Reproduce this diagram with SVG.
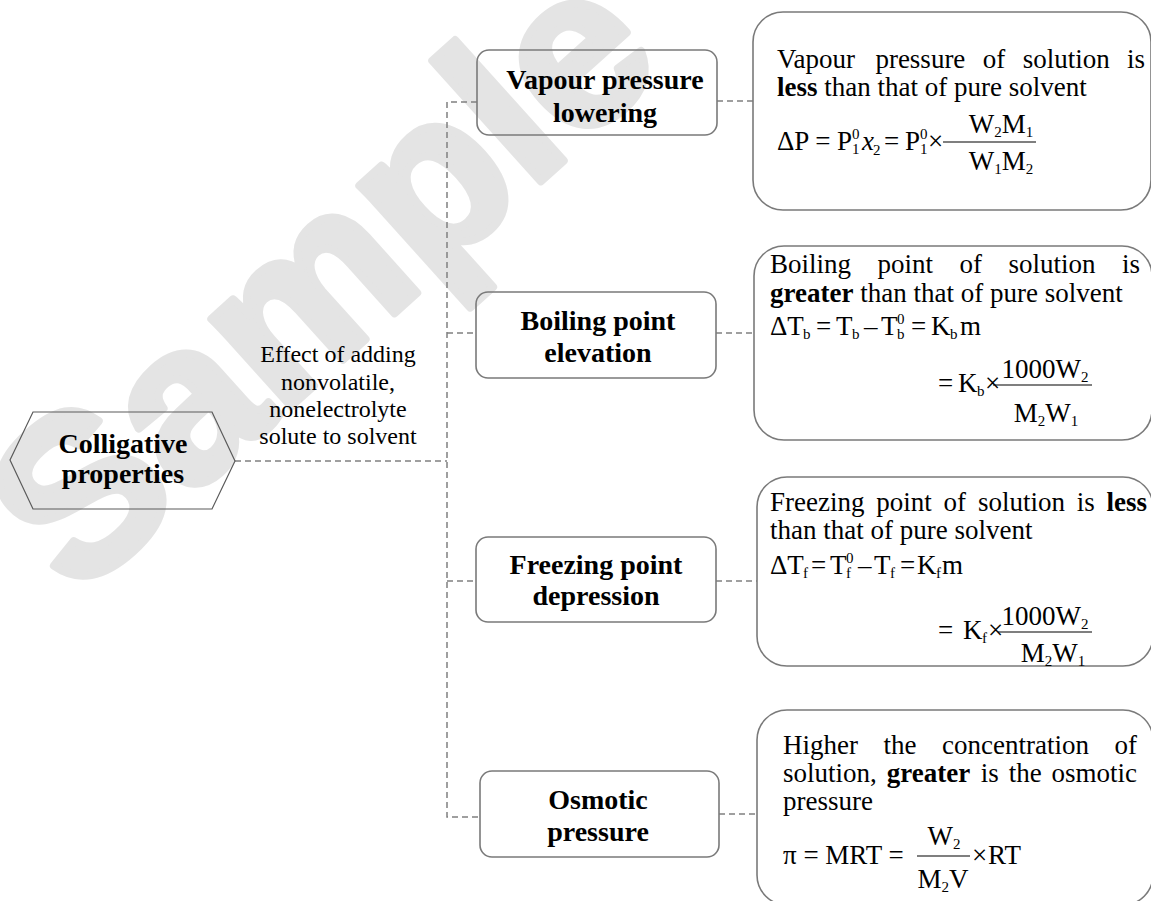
<svg xmlns="http://www.w3.org/2000/svg" width="1151" height="901" viewBox="0 0 1151 901">
<style>
text{font-family:"Liberation Serif","Times New Roman",serif;fill:#000}
.wm{font-family:"Liberation Sans",Arial,sans-serif;font-weight:bold;font-size:224px;fill:#e4e4e4;stroke:#e4e4e4;stroke-width:8;stroke-linejoin:round}
.shape{fill:none;stroke:#7a7a7a;stroke-width:1.6}
.hex{fill:none;stroke:#5a5a5a;stroke-width:1.2}
.lbl{font-weight:bold;font-size:28px;text-anchor:middle}
.eff{font-size:24px;text-anchor:middle}
.t{font-size:27px}
.s{font-size:15px}
.b{font-weight:bold}
.i{font-style:italic}
.m{text-anchor:middle}
.conn line,.conn path{stroke:#808080;stroke-width:1.5;stroke-dasharray:6 4;fill:none}
.bar{stroke:#000;stroke-width:1.2}
</style>

<text class="wm" x="76" y="600" transform="rotate(-42 76 600)">Sample</text>

<g id="connectors" class="conn">
  <line x1="235" y1="461" x2="447" y2="461"/>
  <path d="M477,102 H447 V817 H480"/>
  <line x1="447" y1="333" x2="476" y2="333"/>
  <line x1="447" y1="581" x2="476" y2="581"/>
  <line x1="717" y1="101" x2="753" y2="101"/>
  <line x1="716" y1="333" x2="754" y2="333"/>
  <line x1="716" y1="581" x2="757" y2="581"/>
  <line x1="719" y1="814" x2="757" y2="814"/>
</g>

<g id="colligative">
  <polygon class="hex" points="10,460 33,412 212,412 235,461 212,509 33,509"/>
  <text class="lbl" x="123" y="453" font-size="27.5">Colligative</text>
  <text class="lbl" x="123" y="483" font-size="27.5">properties</text>
</g>

<g id="effect-label">
  <text class="eff" x="338" y="362">Effect of adding</text>
  <text class="eff" x="338" y="390">nonvolatile,</text>
  <text class="eff" x="338" y="417">nonelectrolyte</text>
  <text class="eff" x="338" y="444">solute to solvent</text>
</g>

<g id="vapour-pressure">
  <rect class="shape" x="477" y="50" width="240" height="85" rx="12"/>
  <text class="lbl" x="605" y="89">Vapour pressure</text>
  <text class="lbl" x="605" y="122">lowering</text>
</g>

<g id="boiling-point">
  <rect class="shape" x="476" y="292" width="240" height="86" rx="12"/>
  <text class="lbl" x="598" y="330">Boiling point</text>
  <text class="lbl" x="598" y="362">elevation</text>
</g>

<g id="freezing-point">
  <rect class="shape" x="476" y="537" width="240" height="85" rx="12"/>
  <text class="lbl" x="596" y="574">Freezing point</text>
  <text class="lbl" x="596" y="605">depression</text>
</g>

<g id="osmotic-pressure">
  <rect class="shape" x="480" y="771" width="239" height="86" rx="12"/>
  <text class="lbl" x="598" y="809">Osmotic</text>
  <text class="lbl" x="598" y="841">pressure</text>
</g>

<g id="vp-detail">
  <rect class="shape" x="753" y="12" width="398" height="198" rx="30"/>
  <text class="t" y="68"><tspan x="777">Vapour</tspan><tspan x="875.4">pressure</tspan><tspan x="982.8">of</tspan><tspan x="1022.7">solution</tspan><tspan x="1127.1">is</tspan></text>
  <text class="t" x="777" y="96"><tspan class="b">less</tspan> than that of pure solvent</text>
  <text class="t" x="777" y="150">ΔP =</text>
  <text class="t" x="837" y="150">P</text>
  <text class="s" x="852" y="139">0</text>
  <text class="s" x="852" y="154">1</text>
  <text class="t i" x="862" y="150">x</text>
  <text class="s" x="873" y="155">2</text>
  <text class="t" x="884" y="150">=</text>
  <text class="t" x="905" y="150">P</text>
  <text class="s" x="920" y="139">0</text>
  <text class="s" x="920" y="154">1</text>
  <text class="t" x="928" y="150">×</text>
  <line class="bar" x1="943" y1="142" x2="1036" y2="142"/>
  <text class="t m" x="1001" y="133">W<tspan class="s" dy="4">2</tspan><tspan dy="-4">M</tspan><tspan class="s" dy="4">1</tspan></text>
  <text class="t m" x="1001" y="170">W<tspan class="s" dy="4">1</tspan><tspan dy="-4">M</tspan><tspan class="s" dy="4">2</tspan></text>
</g>

<g id="bp-detail">
  <rect class="shape" x="754" y="246" width="398" height="194" rx="30"/>
  <text class="t" y="273"><tspan x="770">Boiling</tspan><tspan x="877.5">point</tspan><tspan x="959.5">of</tspan><tspan x="1008.5">solution</tspan><tspan x="1122">is</tspan></text>
  <text class="t" x="770" y="302"><tspan class="b">greater</tspan> than that of pure solvent</text>
  <text class="t" x="770" y="335">ΔT</text>
  <text class="s" x="803" y="339">b</text>
  <text class="t" x="816" y="335">=</text>
  <text class="t" x="836" y="335">T</text>
  <text class="s" x="852" y="339">b</text>
  <text class="t" x="864" y="335">–</text>
  <text class="t" x="881" y="335">T</text>
  <text class="s" x="897" y="324">0</text>
  <text class="s" x="897" y="339">b</text>
  <text class="t" x="911" y="335">=</text>
  <text class="t" x="931" y="335">K</text>
  <text class="s" x="950" y="339">b</text>
  <text class="t" x="960" y="335">m</text>
  <text class="t" x="938" y="392">=</text>
  <text class="t" x="958" y="392">K</text>
  <text class="s" x="977" y="396">b</text>
  <text class="t" x="985" y="392">×</text>
  <line class="bar" x1="993" y1="385" x2="1092" y2="385"/>
  <text class="t m" x="1045" y="378">1000W<tspan class="s" dy="4">2</tspan></text>
  <text class="t m" x="1046" y="422">M<tspan class="s" dy="4">2</tspan><tspan dy="-4">W</tspan><tspan class="s" dy="4">1</tspan></text>
</g>

<g id="fp-detail">
  <rect class="shape" x="757" y="477" width="396" height="189" rx="30"/>
  <text class="t" y="511"><tspan x="770">Freezing</tspan><tspan x="876.3">point</tspan><tspan x="943.6">of</tspan><tspan x="977.9">solution</tspan><tspan x="1076.7">is</tspan><tspan class="b" x="1106.5">less</tspan></text>
  <text class="t" x="770" y="539">than that of pure solvent</text>
  <text class="t" x="770" y="574">ΔT</text>
  <text class="s" x="803" y="578">f</text>
  <text class="t" x="811" y="574">=</text>
  <text class="t" x="830" y="574">T</text>
  <text class="s" x="846" y="563">0</text>
  <text class="s" x="846" y="578">f</text>
  <text class="t" x="858" y="574">–</text>
  <text class="t" x="874" y="574">T</text>
  <text class="s" x="890" y="578">f</text>
  <text class="t" x="900" y="574">=</text>
  <text class="t" x="917" y="574">K</text>
  <text class="s" x="936" y="578">f</text>
  <text class="t" x="942" y="574">m</text>
  <text class="t" x="938" y="639">=</text>
  <text class="t" x="963" y="639">K</text>
  <text class="s" x="982" y="643">f</text>
  <text class="t" x="988" y="639">×</text>
  <line class="bar" x1="998" y1="632" x2="1092" y2="632"/>
  <text class="t m" x="1045" y="625">1000W<tspan class="s" dy="4">2</tspan></text>
  <text class="t m" x="1053" y="662">M<tspan class="s" dy="4">2</tspan><tspan dy="-4">W</tspan><tspan class="s" dy="4">1</tspan></text>
</g>

<g id="op-detail">
  <rect class="shape" x="757" y="710" width="396" height="195" rx="30"/>
  <text class="t" y="754"><tspan x="783">Higher</tspan><tspan x="883.5">the</tspan><tspan x="942">concentration</tspan><tspan x="1114.5">of</tspan></text>
  <text class="t" y="782"><tspan x="783">solution,</tspan><tspan class="b" x="886.8">greater</tspan><tspan x="980.8">is</tspan><tspan x="1008.8">the</tspan><tspan x="1051.5">osmotic</tspan></text>
  <text class="t" x="783" y="810">pressure</text>
  <text class="t" x="783" y="864">π = MRT =</text>
  <line class="bar" x1="917" y1="856" x2="970" y2="856"/>
  <text class="t m" x="944" y="845">W<tspan class="s" dy="4">2</tspan></text>
  <text class="t m" x="943" y="888">M<tspan class="s" dy="4">2</tspan><tspan dy="-4">V</tspan></text>
  <text class="t" x="972" y="864">×</text>
  <text class="t" x="988" y="864">RT</text>
</g>
</svg>
